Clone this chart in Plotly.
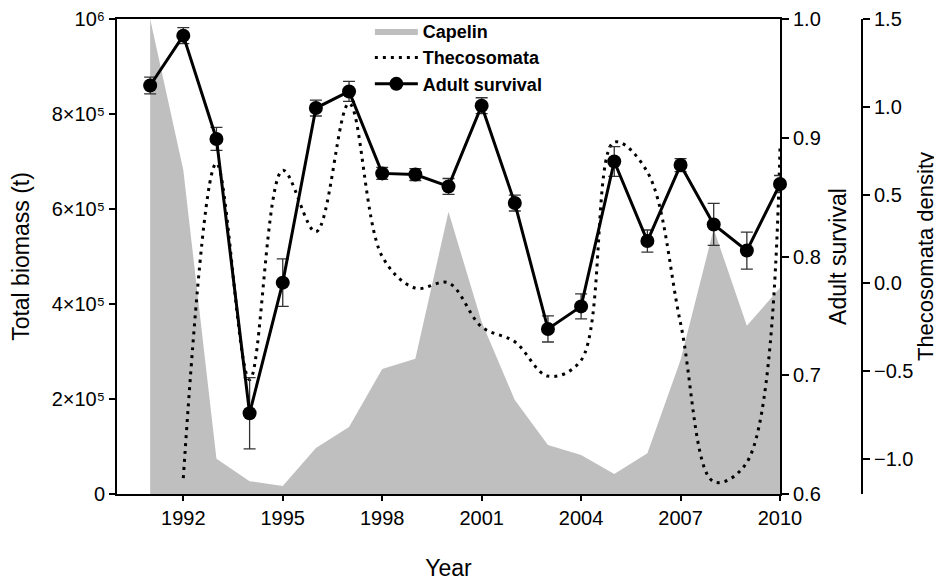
import plotly.graph_objects as go

# ---- data ----
years = list(range(1991, 2011))
capelin_biomass = [1000000, 682000, 74000, 27000, 17000, 97000, 141000, 263000, 285000, 594000,
                   362000, 198000, 103000, 82000, 42000, 86000, 282000, 558000, 354000, 434000]
survival = [0.944, 0.986, 0.899, 0.668, 0.778, 0.925, 0.939, 0.870, 0.869, 0.859,
            0.927, 0.845, 0.739, 0.758, 0.880, 0.813, 0.877, 0.827, 0.805, 0.861]
survival_err = [0.007, 0.0067, 0.0097, 0.030, 0.020, 0.0067, 0.0084, 0.005, 0.005, 0.0067,
                0.0067, 0.0067, 0.011, 0.0105, 0.0126, 0.0093, 0.0055, 0.0177, 0.0156, 0.0072]
theco_years = list(range(1992, 2011))
theco_density = [-1.11, 0.68, -0.55, 0.64, 0.29, 1.02, 0.15, -0.03, 0.0, -0.25,
                 -0.335, -0.53, -0.44, 0.80, 0.63, -0.23, -1.13, -1.02, 0.77]

x_ticks = [1992, 1995, 1998, 2001, 2004, 2007, 2010]
biomass_ticks = [0, 200000, 400000, 600000, 800000, 1000000]
biomass_ticktext = ["0", "2×10⁵", "4×10⁵", "6×10⁵", "8×10⁵", "10⁶"]
theco_ticks = [-1.0, -0.5, 0.0, 0.5, 1.0, 1.5]

FONT = "Helvetica, Arial, 'Liberation Sans', 'DejaVu Sans', sans-serif"
GRAY = "#bfbfbf"

fig = go.Figure()

fig.add_trace(go.Scatter(
    x=years, y=capelin_biomass, name="Capelin", mode="lines",
    fill="tozeroy", fillcolor=GRAY, line=dict(width=0, color=GRAY),
    yaxis="y", hoverinfo="skip"))

fig.add_trace(go.Scatter(
    x=theco_years, y=theco_density, name="Thecosomata", mode="lines",
    line=dict(color="black", width=3, dash="3px,5px", shape="spline", smoothing=1),
    yaxis="y2", cliponaxis=False))

fig.add_trace(go.Scatter(
    x=years, y=survival, name="Adult survival", mode="lines+markers",
    line=dict(color="black", width=3),
    marker=dict(color="black", size=14),
    error_y=dict(type="data", array=survival_err, visible=True,
                 color="#333333", thickness=1.3, width=6),
    yaxis="y3", cliponaxis=False))

axis_common = dict(showgrid=False, zeroline=False, showline=True, linecolor="black",
                   linewidth=2, ticks="outside", tickcolor="black", automargin=False,
                   ticklabeloverflow="allow",
                   tickfont=dict(family=FONT, size=20, color="black"))

# the page body adds an 8px offset, so the figure is 8px smaller and margins shifted
fig.update_layout(
    width=934, height=573,
    margin=dict(l=109, r=80, t=11, b=87, autoexpand=False),
    paper_bgcolor="white", plot_bgcolor="white",
    font=dict(family=FONT, color="black"),
    showlegend=True,
    legend=dict(x=0.3394, y=1.013, xanchor="left", yanchor="top",
                bgcolor="rgba(0,0,0,0)", itemwidth=43,
                font=dict(family=FONT, size=18, color="black", weight="bold"),
                tracegroupgap=0),
    xaxis=dict(domain=[0, 663 / 745], range=[1990, 2010], tickvals=x_ticks,
               ticklen=5, tickwidth=1.5, mirror=True,
               title=dict(text="Year", font=dict(family=FONT, size=23), standoff=33),
               **axis_common),
    yaxis=dict(range=[0, 1000000], tickvals=biomass_ticks, ticktext=biomass_ticktext,
               ticklen=6, tickwidth=1.5,
               title=dict(text="Total biomass (t)", font=dict(family=FONT, size=23), standoff=16),
               **axis_common),
    yaxis3=dict(overlaying="y", anchor="x", side="right", range=[0.6, 1.0],
                tickvals=[0.6, 0.7, 0.8, 0.9, 1.0], tickformat=".1f",
                ticklen=7, tickwidth=1.5,
                title=dict(text="Adult survival", font=dict(family=FONT, size=23), standoff=10),
                **axis_common),
    yaxis2=dict(overlaying="y", anchor="free", position=1.0, side="right",
                range=[-1.2, 1.5], tickvals=theco_ticks, tickformat=".1f",
                ticklen=7, tickwidth=1.5,
                title=dict(text="Thecosomata density", font=dict(family=FONT, size=22), standoff=4),
                **axis_common),
)

fig.write_html("out.html")
